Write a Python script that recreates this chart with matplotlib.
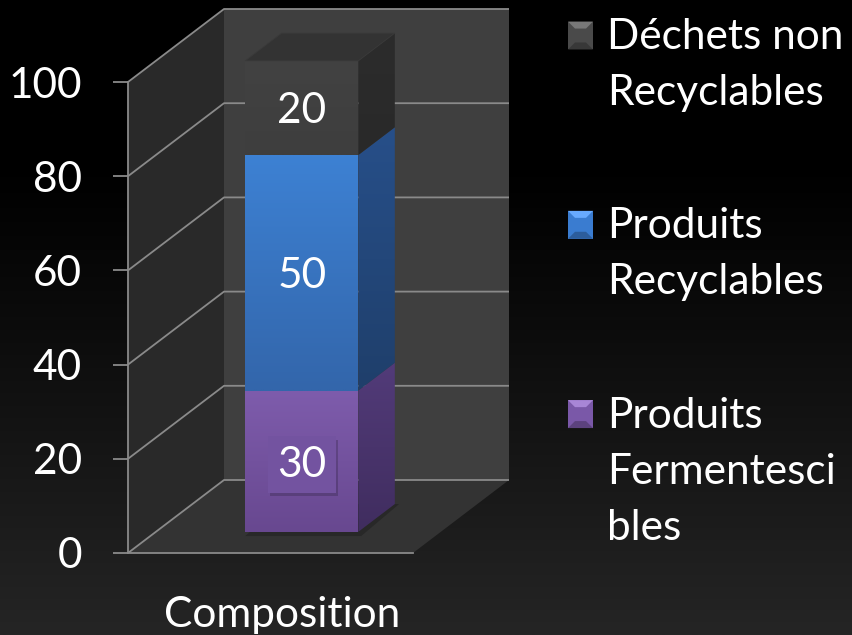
import numpy as np
import matplotlib
matplotlib.use('Agg')
import matplotlib.pyplot as plt
from matplotlib.patches import Polygon, Patch
from matplotlib.legend_handler import HandlerBase
from matplotlib.colors import to_rgb
from matplotlib.font_manager import FontProperties
import matplotlib.patheffects as pe

# ---------------- data ----------------
categories = ['Composition']
series_names = ['Produits\nFermentesci\nbles', 'Produits\nRecyclables', 'Déchets non\nRecyclables']
values = [30, 50, 20]
yticks = [0, 20, 40, 60, 80, 100]

# ---------------- styles ----------------
front_top = ['#7e5cac', '#3d81d3', '#424242']
front_bot = ['#684890', '#3366ab', '#3e3e3e']
side_top = ['#523b79', '#274f89', '#2c2c2c']
side_bot = ['#402d5f', '#1f3f6b', '#292929']
top_face = '#333333'
legend_cols = ['#7a58a8', '#3a7cd0', '#4a4a4a']
grid_col = '#8a8a8a'
FONT = 'Lato'
FS = 30.5

W, H, DPI = 852, 635, 100
plt.rcParams['font.family'] = [FONT, 'DejaVu Sans']
fig = plt.figure(figsize=(W / DPI, H / DPI), dpi=DPI)

# background gradient (black top -> dark grey bottom)
bg = fig.add_axes([0, 0, 1, 1], zorder=-10)
bg.set_axis_off()
yy = np.linspace(0, 1, 256)
lev = (0x25 / 255) * np.clip((yy - 0.25) / 0.75, 0, 1) ** 1.1
bg.imshow(np.repeat(lev[:, None, None], 3, axis=2), aspect='auto',
          extent=(0, 1, 0, 1), origin='upper', interpolation='bilinear')
bg.set_xlim(0, 1); bg.set_ylim(0, 1)

# main axes: front plane of the 3D box
X0_PX, X1_PX, Y0_PX, Y100_PX = 128, 413, 553, 82
sx = X1_PX - X0_PX
sy = (Y0_PX - Y100_PX) / 100.0
DX = 96 / sx          # full depth offset in x units
DY = 73 / sy          # full depth offset in value units
ax = fig.add_axes([0, 0, 1, 1])
ax.patch.set_alpha(0)

# walls & floor
ax.add_patch(Polygon([(0, 0), (0, 100), (DX, 100 + DY), (DX, DY)], fc='#292929', ec='none', zorder=1))
ax.add_patch(Polygon([(0, 0), (1, 0), (1 + DX, DY), (DX, DY)], fc='#333333', ec='none', zorder=1))
ax.add_patch(Polygon([(DX, DY), (1 + DX, DY), (1 + DX, 100 + DY), (DX, 100 + DY)], fc='#3f3f3f', ec='none', zorder=1))
for v in yticks:
    ax.plot([0, DX, 1 + DX], [v, v + DY, v + DY], color=grid_col, lw=1.3, zorder=2,
            solid_capstyle='butt')


def grad_poly(verts, ctop, cbot, z):
    verts = np.asarray(verts)
    poly = Polygon(verts, closed=True, fc='none', ec='none', zorder=z)
    ax.add_patch(poly)
    x0, x1 = verts[:, 0].min(), verts[:, 0].max()
    y0, y1 = verts[:, 1].min(), verts[:, 1].max()
    t = np.linspace(0, 1, 64)[:, None]
    rgb = (1 - t) * np.array(to_rgb(ctop)) + t * np.array(to_rgb(cbot))
    img = ax.imshow(rgb[:, None, :], extent=(x0, x1, y0, y1), aspect='auto',
                    origin='upper', zorder=z, interpolation='bilinear')
    img.set_clip_path(poly)


# stacked 3D bar
c, w, z0, z1 = 0.512, 0.397, 0.29, 0.67
xl, xr = c - w / 2, c + w / 2
bottoms = np.concatenate([[0], np.cumsum(values)[:-1]])
# soft shadow on the floor
ax.add_patch(Polygon([(xl + z0 * DX, z0 * DY - 0.9), (xr + z0 * DX + 0.01, z0 * DY - 0.9),
                      (xr + z1 * DX + 0.015, z1 * DY), (xl + z1 * DX, z1 * DY)],
                     fc='#282828', ec='none', zorder=3))
for i, (b, v) in enumerate(zip(bottoms, values)):
    t = b + v
    front = [(xl + z0 * DX, b + z0 * DY), (xr + z0 * DX, b + z0 * DY),
             (xr + z0 * DX, t + z0 * DY), (xl + z0 * DX, t + z0 * DY)]
    side = [(xr + z0 * DX, b + z0 * DY), (xr + z1 * DX, b + z1 * DY),
            (xr + z1 * DX, t + z1 * DY), (xr + z0 * DX, t + z0 * DY)]
    grad_poly(side, side_top[i], side_bot[i], 4)
    grad_poly(front, front_top[i], front_bot[i], 5)
    if i == len(values) - 1:
        top = [(xl + z0 * DX, t + z0 * DY), (xr + z0 * DX, t + z0 * DY),
               (xr + z1 * DX, t + z1 * DY), (xl + z1 * DX, t + z1 * DY)]
        ax.add_patch(Polygon(top, fc=top_face, ec='#3a3a3a', lw=0.6, zorder=5))
    txt = ax.text(c + z0 * DX, b + v / 2 + z0 * DY, str(v), ha='center',
                  va='center_baseline', color='white', fontsize=FS, zorder=7)
    if i == 0:
        txt.set_bbox(dict(boxstyle='square,pad=0.22', fc='#7353a0', ec='none'))
        txt.get_bbox_patch().set_path_effects(
            [pe.SimplePatchShadow(offset=(1.5, -2.5), shadow_rgbFace='black', alpha=0.18), pe.Normal()])

# axes / ticks
for s in ['top', 'right']:
    ax.spines[s].set_visible(False)
ax.spines['left'].set_position(('data', 0))
ax.spines['left'].set_bounds(0, 100)
ax.spines['bottom'].set_position(('data', 0))
ax.spines['bottom'].set_bounds(0, 1)
for s in ['left', 'bottom']:
    ax.spines[s].set_color(grid_col)
    ax.spines[s].set_linewidth(1.3)
    ax.spines[s].set_zorder(2)
ax.set_yticks(yticks)
ax.set_yticklabels([str(v) for v in yticks])
ax.tick_params(axis='y', length=15 * 72 / DPI, width=1.3, color=grid_col,
               labelcolor='white', labelsize=FS, pad=31 * 72 / DPI)
ax.set_xticks([0.54])
ax.set_xticklabels(categories)
ax.tick_params(axis='x', length=0, labelcolor='white', labelsize=FS, pad=43 * 72 / DPI)

ax.set_xlim(-X0_PX / sx, (W - X0_PX) / sx)
ax.set_ylim(-(H - Y0_PX) / sy, Y0_PX / sy)

# legend with bevelled square markers, aligned to the first text line
LSP = 1.58
fp = FontProperties(family=FONT, size=FS)
rend = fig.canvas.get_renderer()
_, lp_h, lp_d = rend.get_text_width_height_descent('lp', fp, ismath=False)
pitch_pt = (lp_d + LSP * (lp_h - lp_d)) * 72 / DPI


class BevelHandler(HandlerBase):
    def __init__(self, nlines):
        super().__init__()
        self.nlines = nlines

    def create_artists(self, legend, orig_handle, xdescent, ydescent, width, height, fontsize, trans):
        col = np.array(to_rgb(orig_handle.get_facecolor()))
        x0 = -xdescent
        y0 = -ydescent + (self.nlines - 1) / 2 * pitch_pt + 1.5
        x1, y1 = x0 + width, y0 + height
        inset = 0.28 * width
        ix0, ix1 = x0 + inset, x1 - inset
        iy0, iy1 = y0 + inset, y1 - inset
        light = np.clip(col + 0.18, 0, 1)
        dark = col * 0.75
        arts = [Polygon([(x0, y0), (x1, y0), (x1, y1), (x0, y1)], fc=col, ec='none'),
                Polygon([(x0, y1), (x1, y1), (ix1, iy1), (ix0, iy1)], fc=light, ec='none'),
                Polygon([(x0, y0), (x1, y0), (ix1, iy0), (ix0, iy0)], fc=dark, ec='none')]
        for a in arts:
            a.set_transform(trans)
        return arts


order = [2, 1, 0]
handles = [Patch(facecolor=legend_cols[i]) for i in order]
labels = [series_names[i] for i in order]
hmap = {h: BevelHandler(lab.count('\n') + 1) for h, lab in zip(handles, labels)}
leg = ax.legend(handles, labels, loc='upper left', bbox_to_anchor=(568 / W, 1 - 18 / H),
                bbox_transform=fig.transFigure, frameon=False, fontsize=FS, labelcolor='white',
                handlelength=25 / (FS * DPI / 72), handleheight=27 / (FS * DPI / 72),
                handletextpad=14 / (FS * DPI / 72), labelspacing=2.25, borderpad=0,
                borderaxespad=0, handler_map=hmap)
for t in leg.get_texts():
    t.set_linespacing(LSP)

fig.savefig('out.png', dpi=DPI)
